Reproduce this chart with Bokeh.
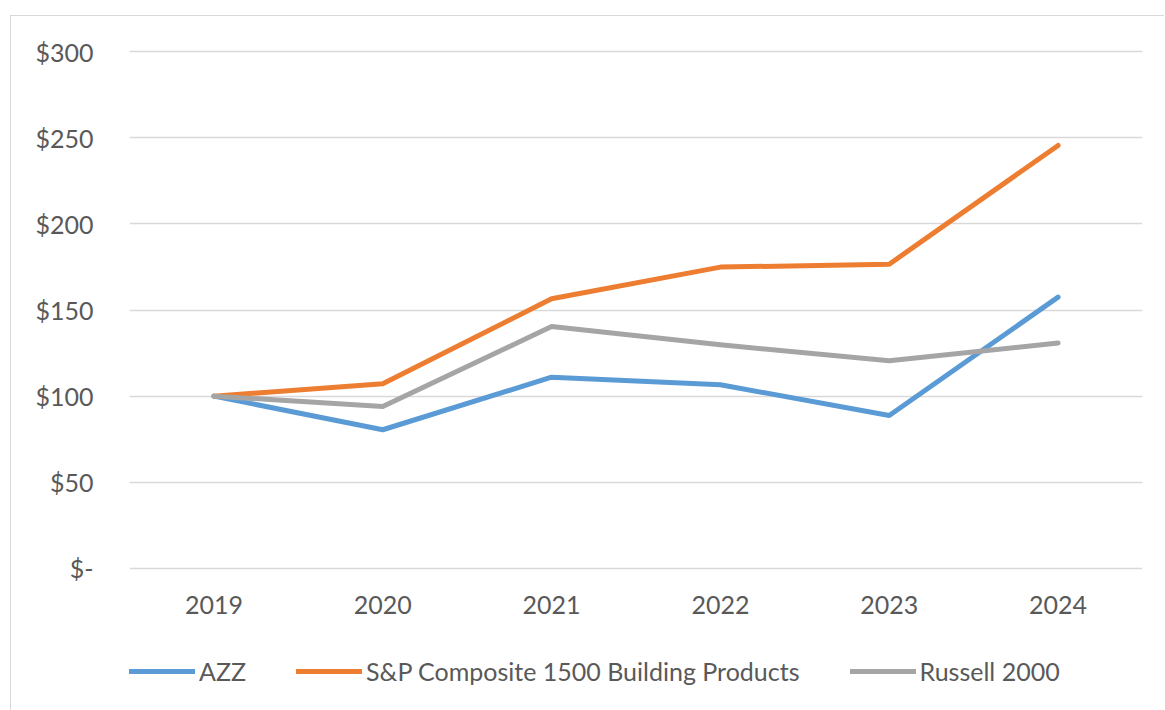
from bokeh.plotting import figure
from bokeh.models import FactorRange, Range1d, FixedTicker, Legend, LegendItem
from bokeh.embed import file_html
from bokeh.resources import INLINE

years = ["2019", "2020", "2021", "2022", "2023", "2024"]
azz = [100, 80.5, 111, 106.6, 88.8, 157.5]
sp1500 = [100, 107.2, 156.5, 174.9, 176.6, 245.5]
russell = [100, 94, 140.4, 129.8, 120.5, 130.8]
series_names = ["AZZ", "S&P Composite 1500 Building Products", "Russell 2000"]
y_ticks = [0, 50, 100, 150, 200, 250, 300]
y_tick_labels = ["$-", "$50", "$100", "$150", "$200", "$250", "$300"]

FONT = "Lato"
TXT = "#595959"

# frame extends below the $0 line so that the legend lies inside it (not clipped)
p = figure(
    frame_width=1013, frame_height=648,
    x_range=FactorRange(factors=years, range_padding=0),
    y_range=Range1d(-74.91, 301.2),
    output_backend="svg", toolbar_location=None,
    min_border_left=118, min_border_right=22, min_border_top=33, min_border_bottom=13,
)
p.styles = {"margin-left": "10px", "margin-top": "15px",
            "border-left": "1.5px solid #d9d9d9", "border-top": "1.5px solid #d9d9d9"}
p.outline_line_color = None
p.background_fill_color = "white"
p.border_fill_color = "white"

p.xgrid.grid_line_color = None
p.ygrid.grid_line_color = "#d9d9d9"
p.ygrid.grid_line_width = 1.5
p.yaxis.ticker = FixedTicker(ticks=y_ticks)
p.yaxis.major_label_overrides = {t: l for t, l in zip(y_ticks, y_tick_labels)}

for ax in (p.xaxis, p.yaxis):
    ax.axis_line_color = None
    ax.major_tick_line_color = None
    ax.minor_tick_line_color = None
    ax.major_label_text_font = FONT
    ax.major_label_text_font_size = "25px"
    ax.major_label_text_color = TXT
p.yaxis.major_label_standoff = 30
p.xaxis.major_label_standoff = 22
p.xaxis.fixed_location = 0

colors = ["#5B9BD5", "#ED7D31", "#A5A5A5"]
renderers = []
for vals, c in zip([azz, sp1500, russell], colors):
    r = p.line(years, vals, line_color=c, line_width=5, line_join="round", line_cap="round")
    renderers.append(r)

legend = Legend(
    items=[LegendItem(label=n, renderers=[r]) for n, r in zip(series_names, renderers)],
    orientation="horizontal",
    location=(0, 11),
    glyph_width=66, glyph_height=30, label_height=30, label_standoff=4, spacing=50,
    padding=0, margin=0,
    label_text_font=FONT, label_text_font_size="25px", label_text_color=TXT,
    border_line_color=None, background_fill_alpha=0,
)
p.add_layout(legend, "center")

open("out.html", "w").write(file_html(p, INLINE))
